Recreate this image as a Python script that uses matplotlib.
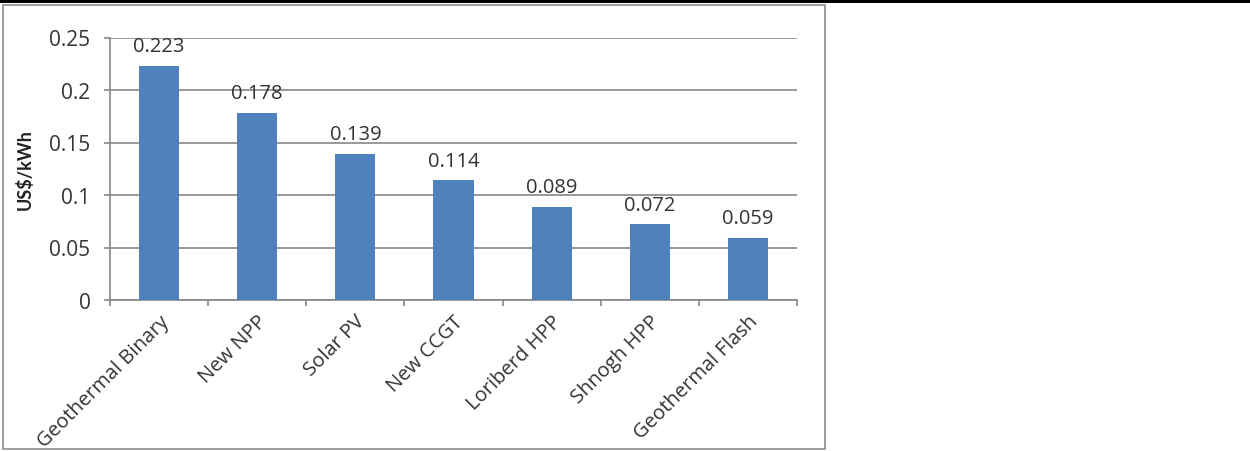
import matplotlib.pyplot as plt
from matplotlib.patches import Rectangle
import numpy as np

plt.rcParams['font.family'] = ['Open Sans', 'DejaVu Sans']

# data
names = ['Geothermal Binary', 'New NPP', 'Solar PV', 'New CCGT',
         'Loriberd HPP', 'Shnogh HPP', 'Geothermal Flash']
costs = [0.223, 0.178, 0.139, 0.114, 0.089, 0.072, 0.059]
yticks = [0, 0.05, 0.1, 0.15, 0.2, 0.25]
ytick_labels = ['0', '0.05', '0.1', '0.15', '0.2', '0.25']

fig = plt.figure(figsize=(12.5, 4.52), dpi=100)

# black band on top and the chart border
fig.patches.append(Rectangle((0, 1 - 4/452), 1, 4/452, transform=fig.transFigure,
                             facecolor='black', edgecolor='none', zorder=0))
fig.patches.append(Rectangle((3/1250, 1 - 450/452), 822/1250, 444/452,
                             transform=fig.transFigure, facecolor='none',
                             edgecolor='#8c8c8c', linewidth=1.2, zorder=0))

ax = fig.add_axes([110/1250, 1 - 301/452, 687/1250, 262.5/452])
x = np.arange(len(names))
bars = ax.bar(x, costs, width=0.41, color='#4f81bd', zorder=3)

for xi, v in zip(x, costs):
    ax.annotate(f'{v:.3f}', (xi, v), xytext=(0, 7), textcoords='offset points',
                ha='center', va='bottom', fontsize=14.5, color='#333333')

ax.set_xlim(-0.5, len(names) - 0.5)
ax.set_ylim(0, 0.25)
ax.set_yticks(yticks)
ax.set_yticklabels(ytick_labels, fontsize=15, color='#333333')
ax.set_xticks(x)
ax.set_xticklabels(names, rotation=45, ha='right', va='top',
                   rotation_mode='anchor', fontsize=14.5, color='#333333')
ax.set_xticks(np.arange(-0.5, len(names)), minor=True)
ax.tick_params(axis='x', which='major', length=0, pad=8)
ax.tick_params(axis='x', which='minor', length=4, color='#868686', width=1.2)
ax.tick_params(axis='y', length=4, color='#868686', width=1.2, pad=10)

ax.grid(axis='y', color='#868686', linewidth=1.2, zorder=0)
for s in ['top', 'right']:
    ax.spines[s].set_visible(False)
for s in ['left', 'bottom']:
    ax.spines[s].set_color('#868686')
    ax.spines[s].set_linewidth(1.2)

ax.set_ylabel('US$/kWh', fontsize=13, fontweight='bold', color='#222222',
              family=['Lato', 'DejaVu Sans'])
ax.yaxis.set_label_coords(-76/687, 0.5)

fig.savefig('out.png', dpi=100)
